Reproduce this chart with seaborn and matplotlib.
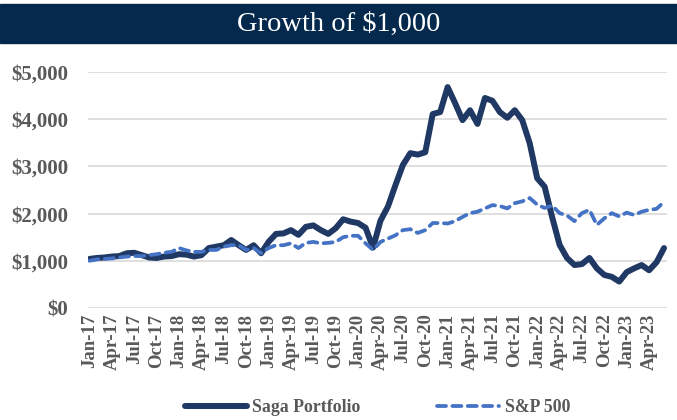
import matplotlib
matplotlib.use("Agg")
import matplotlib.pyplot as plt
import seaborn as sns
import pandas as pd
import numpy as np

months = pd.date_range("2017-01-01", "2023-06-01", freq="MS")
labels = [d.strftime("%b-%y") for d in months]

saga = [1040, 1060, 1070, 1090, 1100, 1160, 1170, 1120, 1070, 1060, 1090, 1100,
        1140, 1130, 1090, 1120, 1270, 1300, 1330, 1440, 1330, 1230, 1330, 1160,
        1400, 1570, 1580, 1650, 1550, 1720, 1750, 1650, 1570, 1690, 1880, 1830,
        1800, 1700, 1280, 1850, 2150, 2600, 3030, 3280, 3250, 3300, 4110, 4150,
        4680, 4340, 3980, 4190, 3900, 4450, 4390, 4150, 4030, 4190, 3980, 3490,
        2750, 2570, 1930, 1340, 1060, 910, 930, 1060, 840, 700, 660, 560,
        760, 840, 910, 800, 970, 1270]
sp500 = [1000, 1030, 1040, 1050, 1070, 1090, 1100, 1100, 1120, 1140, 1170, 1190,
         1270, 1220, 1190, 1190, 1230, 1230, 1300, 1330, 1330, 1230, 1270, 1160,
         1270, 1330, 1330, 1370, 1270, 1380, 1400, 1370, 1380, 1400, 1500, 1530,
         1530, 1370, 1230, 1400, 1470, 1540, 1650, 1670, 1590, 1650, 1800, 1800,
         1790, 1840, 1930, 2010, 2040, 2110, 2180, 2160, 2110, 2220, 2260, 2330,
         2190, 2120, 2170, 2010, 1960, 1840, 2010, 2080, 1760, 1900, 2010, 1940,
         2020, 1970, 2040, 2080, 2100, 2250]
yticks = [0, 1000, 2000, 3000, 4000, 5000]
ytick_labels = ["$0", "$1,000", "$2,000", "$3,000", "$4,000", "$5,000"]
title = "Growth of $1,000"

df = pd.DataFrame({"idx": np.arange(len(months)), "Saga Portfolio": saga, "S&P 500": sp500})

sns.set_theme(style="white")
SERIF = ['Liberation Serif', 'DejaVu Serif']
plt.rcParams['font.family'] = SERIF

fig = plt.figure(figsize=(6.77, 4.2), dpi=100)
ax = fig.add_axes([88/677, 1-308/420, (667-88)/677, (308-72)/420])

grey = "#595959"
sns.lineplot(data=df, x="idx", y="Saga Portfolio", ax=ax, color="#1f3864",
             linewidth=4.3, label="Saga Portfolio", solid_capstyle="round", solid_joinstyle="round")
sns.lineplot(data=df, x="idx", y="S&P 500", ax=ax, color="#4472c4",
             linewidth=2.7, label="S&P 500", dash_capstyle="round")
ax.lines[1].set_dashes([2.4, 1.7])

ax.set_xlim(-0.2, len(months) - 0.6)
ax.set_ylim(0, 5000)
ax.set_yticks(yticks)
ax.set_yticklabels(ytick_labels, fontsize=15, fontweight="bold", color=grey, family=SERIF)
ticks = list(range(0, len(months), 3))
ax.set_xticks(ticks)
ax.set_xticklabels([labels[i] for i in ticks], rotation=90, fontsize=13.5,
                   fontweight="bold", color=grey, family=SERIF)
ax.tick_params(axis="both", length=0, pad=4)
ax.tick_params(axis="y", pad=14)
ax.set_xlabel("")
ax.set_ylabel("")
for s in ax.spines.values():
    s.set_visible(False)
ax.yaxis.grid(True, color="#d9d9d9", linewidth=1.2)
ax.set_axisbelow(True)

leg = ax.legend(loc="center", bbox_to_anchor=(0.5, (308-408)/236), ncol=2, frameon=False,
                prop={"size": 12.8, "weight": "bold", "family": SERIF}, handlelength=3.5,
                columnspacing=4.3, handletextpad=0.3)
for t in leg.get_texts():
    t.set_color(grey)

# title bar
fig.patches.append(plt.Rectangle((0, 1-43/420), 1, 39/420, transform=fig.transFigure,
                                 color="#04294d", zorder=0))
fig.text(0.5, 1-24/420, title, ha="center", va="center", color="white",
         fontsize=20.5, family=SERIF)

fig.savefig("out.png", dpi=100)
